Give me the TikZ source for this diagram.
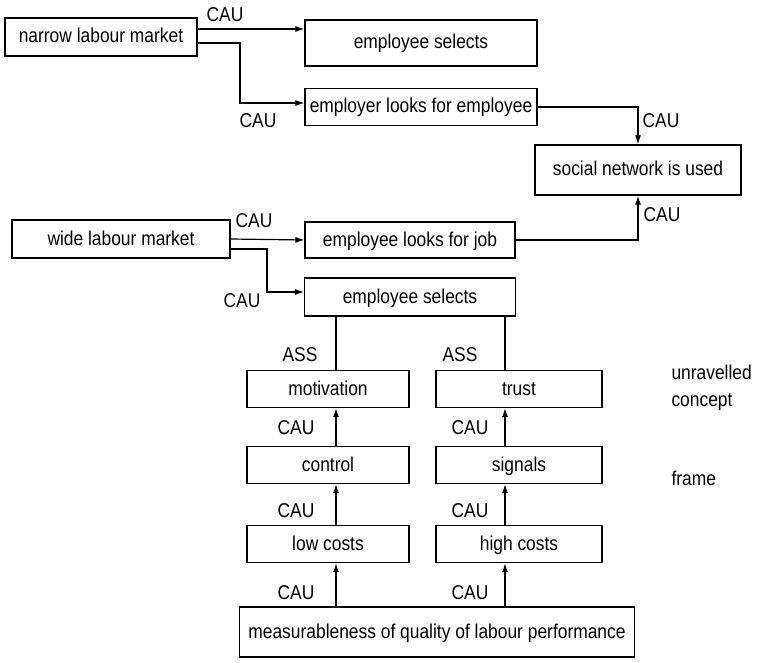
\documentclass[tikz,border=0pt]{standalone}
\usepackage{fontspec}
\setmainfont{Liberation Sans}[FakeStretch=0.87]
\usetikzlibrary{arrows.meta, positioning, calc}

\begin{document}
\begin{tikzpicture}[
    x=1pt, y=-1pt,
    every node/.style={font=\fontsize{20}{27}\selectfont},
    box/.style={rectangle, draw, line width=1.2pt, inner sep=0pt, align=center, text height=15pt, text depth=3pt},
    arrow/.style={-{Latex[length=9pt,width=6pt]}, line width=1.2pt},
    link/.style={line width=1.2pt}
]
\useasboundingbox (0,0) rectangle (757,663);

% upper part
\node[box, minimum width=192pt, minimum height=38pt] (narrow) at (101,37) {narrow labour market};
\node[box, minimum width=232pt, minimum height=46pt] (selA) at (421,43) {employee selects};
\node[box, minimum width=232pt, minimum height=37pt] (employer) at (421,107) {employer looks for employee};
\node[box, minimum width=206pt, minimum height=50pt] (social) at (638,170) {social network is used};
\node[box, minimum width=218pt, minimum height=38pt] (wide) at (121,239) {wide labour market};
\node[box, minimum width=210pt, minimum height=36pt] (lookjob) at (410,240) {employee looks for job};
\node[box, minimum width=211pt, minimum height=38pt] (selB) at (410,297) {employee selects};

% lower part
\node[box, minimum width=162pt, minimum height=37pt] (motivation) at (328,389) {motivation};
\node[box, minimum width=166pt, minimum height=37pt] (trust) at (519,389) {trust};
\node[box, minimum width=162pt, minimum height=37pt] (control) at (328,465) {control};
\node[box, minimum width=166pt, minimum height=37pt] (signals) at (519,465) {signals};
\node[box, minimum width=162pt, minimum height=37pt] (lowcost) at (328,544) {low costs};
\node[box, minimum width=166pt, minimum height=37pt] (highcost) at (519,544) {high costs};
\node[box, minimum width=395pt, minimum height=50pt] (measure) at (437,632) {measurableness of quality of labour performance};

\node[anchor=west, align=left] (unrav) at (668,388) {unravelled\\concept};
\node[anchor=west] (frame) at (668,478) {frame};

\coordinate (ya) at (0,29);
\coordinate (yb) at (0,43);
\coordinate (yc) at (0,103);
\coordinate (yd) at (0,249);
\coordinate (ye) at (0,292);
\coordinate (lcol) at (336,0);
\coordinate (rcol) at (505,0);

\draw[arrow] (narrow.east |- ya) -- (selA.west |- ya);
\draw[arrow] (narrow.east |- yb) -| (240,0 |- yc) -- (employer.west |- yc);
\draw[arrow] (employer.east) -| (social.north);
\draw[arrow] (lookjob.east) -| (social.south);
\draw[arrow] (wide.east) -- (lookjob.west);
\draw[arrow] (wide.east |- yd) -| (267,0 |- ye) -- (selB.west |- ye);

\draw[link] (selB.south -| lcol) -- (motivation.north -| lcol);
\draw[link] (selB.south -| rcol) -- (trust.north -| rcol);
\foreach \a/\b in {control/motivation, lowcost/control, measure/lowcost}
    \draw[arrow] (\a.north -| lcol) -- (\b.south -| lcol);
\foreach \a/\b in {signals/trust, highcost/signals, measure/highcost}
    \draw[arrow] (\a.north -| rcol) -- (\b.south -| rcol);

% labels
\node (c1) at (225,15) {CAU};
\node (c2) at (258,121) {CAU};
\node (c3) at (661,121) {CAU};
\node (c4) at (662,215) {CAU};
\node (c5) at (254,221) {CAU};
\node (c6) at (242,301) {CAU};
\node (s1) at (300,355) {ASS};
\node (s2) at (460,355) {ASS};
\foreach \y [count=\i] in {428,511,593} {
    \node (cl\i) at (296,\y) {CAU};
    \node (cr\i) at (470,\y) {CAU};
}
\end{tikzpicture}
\end{document}
